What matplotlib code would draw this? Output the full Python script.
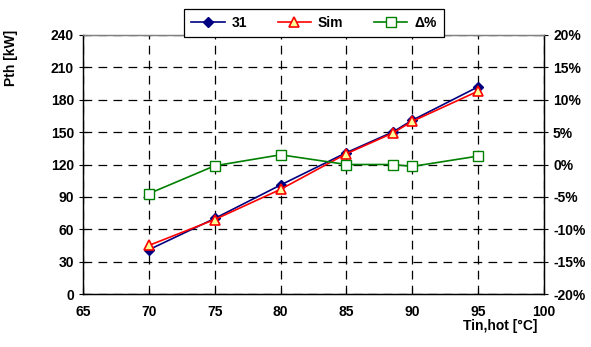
import matplotlib
matplotlib.use("Agg")
import matplotlib.pyplot as plt
from matplotlib.ticker import FuncFormatter

# data
tin = [70, 75, 80, 85, 88.5, 90, 95]
p_31 = [41, 70, 101, 131, 150, 161, 192]
p_sim = [45, 69, 97, 130, 149, 160, 188]
delta = [-4.5, -0.2, 1.5, 0.0, 0.0, -0.3, 1.3]

plt.rcParams['font.family'] = ['Liberation Sans', 'DejaVu Sans']
plt.rcParams['font.weight'] = 'bold'
plt.rcParams['font.size'] = 10

fig = plt.figure(figsize=(5.91, 3.47), dpi=100)
ax = fig.add_axes([83/591, 1 - 294/347, (544-83)/591, (294-35)/347])
ax2 = ax.twinx()

l1, = ax.plot(tin, p_31, color='#000080', marker='D', markersize=5,
              markerfacecolor='#000080', lw=1.2, label='31', zorder=3)
l2, = ax.plot(tin, p_sim, color='red', marker='^', markersize=7.5,
              markerfacecolor='#ffff99', markeredgewidth=1.2, lw=1.2,
              label='Sim', zorder=4)
l3, = ax2.plot(tin, delta, color='#008000', marker='s', markersize=7,
               markerfacecolor='white', markeredgewidth=1.0, lw=1.2,
               label='\u0394%', zorder=3)

ax.set_xlim(65, 100)
ax.set_ylim(0, 240)
ax.set_xticks(range(65, 101, 5))
ax.set_yticks(range(0, 241, 30))
ax2.set_ylim(-20, 20)
ax2.set_yticks(range(-20, 21, 5))
ax2.yaxis.set_major_formatter(FuncFormatter(lambda v, p: '%d%%' % v))

ax.grid(True, color='black', linestyle=(0, (7, 5)), lw=0.9)
for a in (ax, ax2):
    a.tick_params(direction='inout', length=6, width=0.8, colors='black')
    for s in a.spines.values():
        s.set_linewidth(0.9)
ax.spines['top'].set_color('#808080')
ax2.spines['top'].set_color('#808080')
ax.tick_params(axis='x', direction='in', length=4, pad=8)

ax.set_ylabel('Pth [kW]', fontweight='bold')
ax.yaxis.set_label_coords(-0.14, 0.91)
fig.text(537/591, 1 - 326/347, 'Tin,hot [\u00b0C]', ha='right', va='center',
         fontweight='bold')

leg = fig.legend(handles=[l1, l2, l3], loc='center', ncol=3,
                 bbox_to_anchor=(314/591, 1 - 23/347), frameon=True,
                 fancybox=False, edgecolor='black', framealpha=1,
                 handlelength=2.4, handletextpad=0.5, columnspacing=2.2,
                 borderpad=0.5, borderaxespad=0)
leg.get_frame().set_linewidth(0.9)

fig.savefig('out.png', dpi=100)
